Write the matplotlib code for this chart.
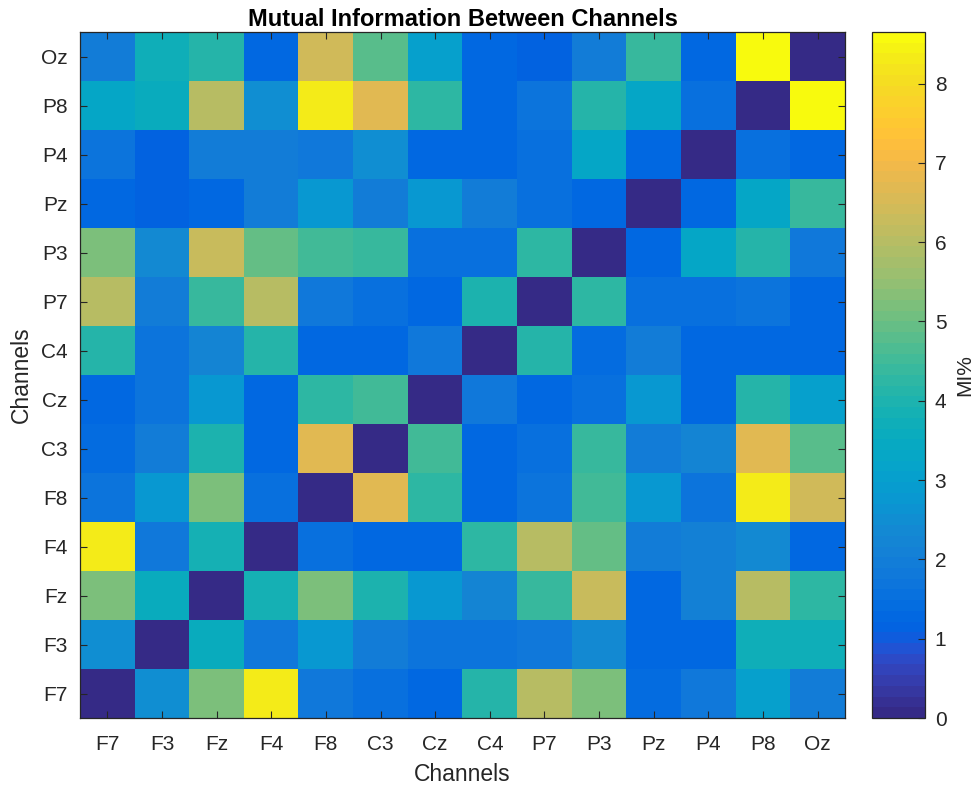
import matplotlib
matplotlib.use("Agg")
import matplotlib.pyplot as plt
import numpy as np
from matplotlib.colors import ListedColormap

plt.rcParams['font.family'] = ['Liberation Sans', 'DejaVu Sans']

channels = ["F7", "F3", "Fz", "F4", "F8", "C3", "Cz", "C4", "P7", "P3", "Pz", "P4", "P8", "Oz"]

# mutual information (MI%), row i / column j = channel i / channel j
mi_f7 = [0, 2.45, 5.15, 8.3, 1.85, 1.6, 1.25, 4.1, 6.05, 5.25, 1.4, 1.85, 3.1, 1.95]
mi_f3 = [2.45, 0, 3.55, 1.85, 2.8, 2.0, 1.7, 1.7, 1.85, 2.4, 1.25, 1.3, 3.65, 3.7]
mi_fz = [5.15, 3.55, 0, 3.85, 5.15, 4.0, 2.8, 2.2, 4.45, 6.3, 1.25, 2.1, 6.05, 4.25]
mi_f4 = [8.3, 1.85, 3.85, 0, 1.6, 1.35, 1.25, 4.2, 6.05, 5.0, 1.95, 2.05, 2.4, 1.35]
mi_f8 = [1.65, 2.8, 5.15, 1.55, 0, 6.65, 4.2, 1.25, 1.7, 4.55, 2.8, 1.75, 8.3, 6.45]
mi_c3 = [1.45, 1.9, 4.05, 1.35, 6.65, 0, 4.55, 1.3, 1.55, 4.45, 1.9, 2.2, 6.65, 4.75]
mi_cz = [1.25, 1.65, 2.8, 1.25, 4.2, 4.55, 0, 1.85, 1.25, 1.6, 2.8, 1.35, 4.1, 3.1]
mi_c4 = [4.1, 1.7, 2.2, 4.15, 1.25, 1.3, 1.85, 0, 4.1, 1.45, 2.0, 1.3, 1.35, 1.35]
mi_p7 = [6.05, 1.9, 4.45, 6.05, 1.8, 1.6, 1.25, 4.05, 0, 4.2, 1.6, 1.6, 1.75, 1.25]
mi_p3 = [5.25, 2.35, 6.3, 4.95, 4.55, 4.4, 1.6, 1.55, 4.2, 0, 1.25, 3.25, 4.1, 1.8]
mi_pz = [1.25, 1.2, 1.25, 1.9, 2.8, 1.9, 2.8, 2.0, 1.55, 1.25, 0, 1.35, 3.25, 4.4]
mi_p4 = [1.75, 1.2, 2.0, 2.0, 1.85, 2.45, 1.35, 1.25, 1.6, 3.25, 1.35, 0, 1.6, 1.3]
mi_p8 = [3.25, 3.6, 6.05, 2.5, 8.3, 6.65, 4.2, 1.3, 1.65, 4.1, 3.25, 1.55, 0, 8.65]
mi_oz = [2.0, 3.65, 4.15, 1.35, 6.45, 4.75, 3.1, 1.35, 1.2, 1.95, 4.4, 1.3, 8.65, 0]

mi = np.array([mi_f7, mi_f3, mi_fz, mi_f4, mi_f8, mi_c3, mi_cz,
               mi_c4, mi_p7, mi_p3, mi_pz, mi_p4, mi_p8, mi_oz])

# matlab parula, 64 steps
parula_data = [
    [0.2081, 0.1663, 0.5292], [0.2116, 0.1898, 0.5777], [0.2123, 0.2138, 0.6270], [0.2081, 0.2386, 0.6771],
    [0.1959, 0.2645, 0.7279], [0.1707, 0.2919, 0.7792], [0.1253, 0.3242, 0.8303], [0.0591, 0.3598, 0.8683],
    [0.0117, 0.3875, 0.8820], [0.0060, 0.4086, 0.8828], [0.0165, 0.4266, 0.8786], [0.0329, 0.4430, 0.8720],
    [0.0498, 0.4586, 0.8641], [0.0629, 0.4737, 0.8554], [0.0723, 0.4887, 0.8467], [0.0779, 0.5040, 0.8384],
    [0.0793, 0.5200, 0.8312], [0.0749, 0.5375, 0.8263], [0.0641, 0.5570, 0.8240], [0.0488, 0.5772, 0.8228],
    [0.0343, 0.5966, 0.8199], [0.0265, 0.6137, 0.8135], [0.0239, 0.6287, 0.8038], [0.0231, 0.6418, 0.7913],
    [0.0228, 0.6535, 0.7768], [0.0267, 0.6642, 0.7607], [0.0384, 0.6743, 0.7436], [0.0590, 0.6838, 0.7254],
    [0.0843, 0.6928, 0.7062], [0.1133, 0.7015, 0.6859], [0.1453, 0.7098, 0.6646], [0.1801, 0.7177, 0.6424],
    [0.2178, 0.7250, 0.6193], [0.2586, 0.7317, 0.5954], [0.3022, 0.7376, 0.5712], [0.3482, 0.7424, 0.5473],
    [0.3953, 0.7459, 0.5244], [0.4420, 0.7481, 0.5033], [0.4871, 0.7491, 0.4840], [0.5300, 0.7491, 0.4661],
    [0.5709, 0.7485, 0.4494], [0.6099, 0.7473, 0.4337], [0.6473, 0.7456, 0.4188], [0.6834, 0.7435, 0.4044],
    [0.7184, 0.7411, 0.3905], [0.7525, 0.7384, 0.3768], [0.7858, 0.7356, 0.3633], [0.8185, 0.7327, 0.3498],
    [0.8507, 0.7299, 0.3360], [0.8824, 0.7274, 0.3217], [0.9139, 0.7258, 0.3063], [0.9450, 0.7261, 0.2886],
    [0.9739, 0.7314, 0.2666], [0.9938, 0.7455, 0.2403], [0.9990, 0.7653, 0.2164], [0.9955, 0.7861, 0.1967],
    [0.9880, 0.8066, 0.1794], [0.9789, 0.8271, 0.1633], [0.9697, 0.8481, 0.1475], [0.9626, 0.8705, 0.1309],
    [0.9589, 0.8949, 0.1132], [0.9598, 0.9218, 0.0948], [0.9661, 0.9514, 0.0755], [0.9763, 0.9831, 0.0538]]
parula = ListedColormap(parula_data, name="parula")

dark = (0.15, 0.15, 0.15)

fig = plt.figure(figsize=(9.77, 7.88), dpi=100)
ax = fig.add_axes([80 / 977, 70 / 788, 765 / 977, 686 / 788])
im = ax.imshow(mi, cmap=parula, origin="lower", vmin=0, vmax=mi.max(),
               aspect="auto", interpolation="nearest")

ax.set_xticks(range(len(channels)))
ax.set_xticklabels(channels)
ax.set_yticks(range(len(channels)))
ax.set_yticklabels(channels)
ax.tick_params(direction="in", length=5, width=0.8, colors=dark, labelsize=15,
               top=True, right=True)
ax.tick_params(axis="x", pad=12)
ax.tick_params(axis="y", pad=9)
for s in ax.spines.values():
    s.set_color(dark)
    s.set_linewidth(0.9)

ax.set_xlabel("Channels", fontsize=16.5, color=dark, labelpad=7)
ax.set_ylabel("Channels", fontsize=16.5, color=dark, labelpad=6)
ax.set_title("Mutual Information Between Channels", fontsize=17, fontweight="bold", pad=4)

cax = fig.add_axes([872 / 977, 70 / 788, 53 / 977, 686 / 788])
cb = fig.colorbar(im, cax=cax)
cb.set_ticks(range(0, 9))
cb.ax.tick_params(direction="in", length=5, width=0.8, colors=dark, labelsize=15, pad=7)
cb.outline.set_edgecolor(dark)
cb.outline.set_linewidth(0.9)
cb.set_label("MI%", fontsize=15, color=dark, labelpad=6)

fig.savefig("out.png", dpi=100)
